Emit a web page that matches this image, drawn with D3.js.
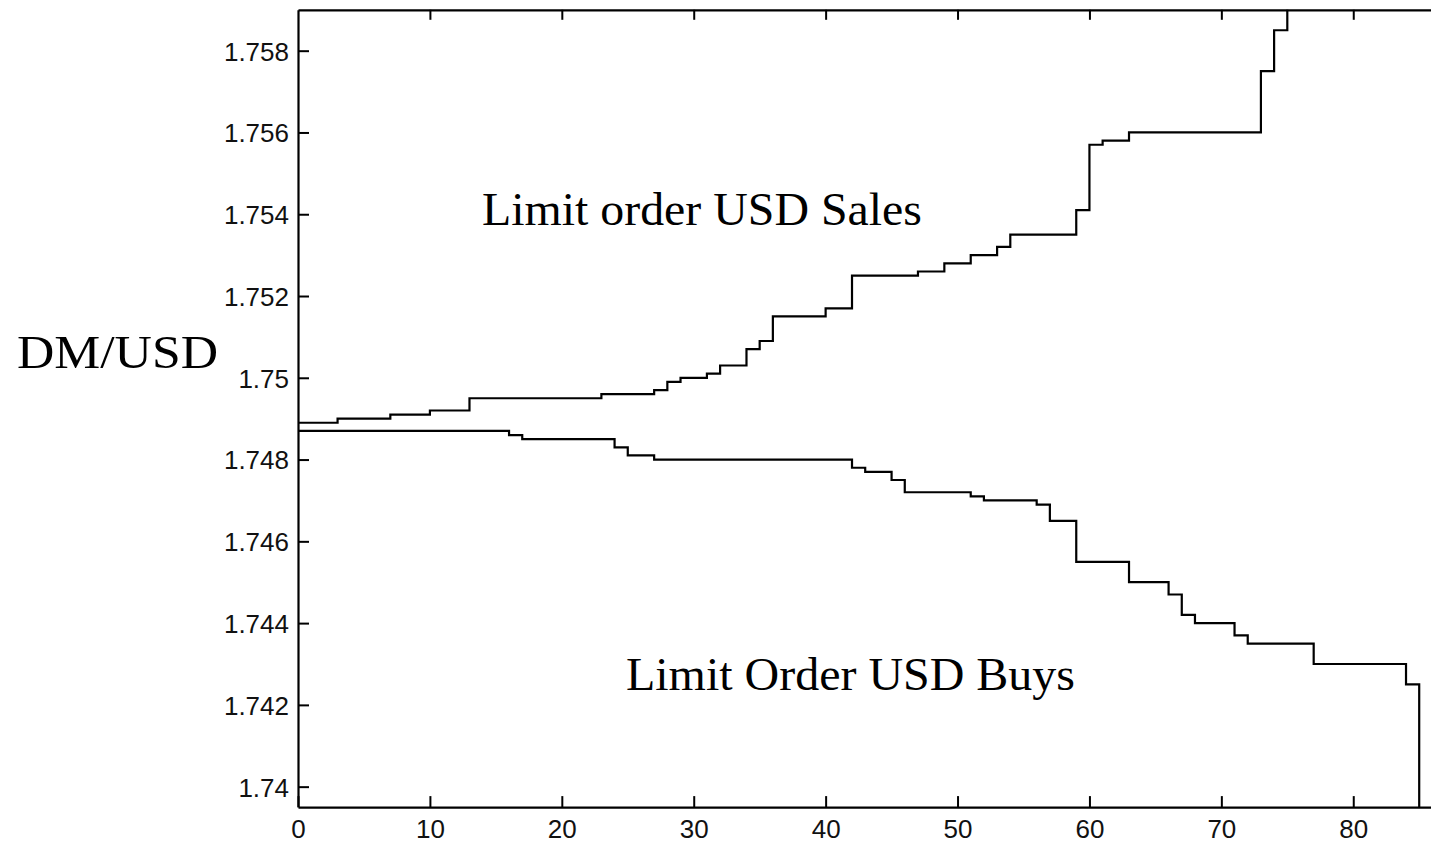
<!DOCTYPE html>
<html>
<head>
<meta charset="utf-8">
<script src="https://cdn.jsdelivr.net/npm/d3@7"></script>
<style>
  html, body { margin: 0; padding: 0; background: #fff; overflow: hidden; }
  svg { display: block; }
  .tick text { font-family: "Liberation Sans", Arial, Helvetica, sans-serif; font-size: 26px; fill: #111; }
  .anno { font-family: "Liberation Serif", "Times New Roman", serif; fill: #000; }
</style>
</head>
<body>
<svg id="chart" width="1431" height="844"></svg>
<script>
// Limit order book depth (DM/USD) against cumulative order count
const salesX = [0, 3, 7, 10, 13, 23, 27, 28, 29, 31, 32, 34, 35, 36, 40, 42, 47, 49, 51, 53, 54, 59, 60, 61, 63, 73, 74, 75];
const salesY = [1.7489, 1.7490, 1.7491, 1.7492, 1.7495, 1.7496, 1.7497, 1.7499, 1.7500, 1.7501, 1.7503, 1.7507, 1.7509, 1.7515,
                1.7517, 1.7525, 1.7526, 1.7528, 1.7530, 1.7532, 1.7535, 1.7541, 1.7557, 1.7558, 1.7560, 1.7575, 1.7585, 1.7600];

const buysX = [0, 16, 17, 24, 25, 27, 42, 43, 45, 46, 51, 52, 56, 57, 59, 63, 66, 67, 68, 71, 72, 77, 84, 85];
const buysY = [1.7487, 1.7486, 1.7485, 1.7483, 1.7481, 1.7480, 1.7478, 1.7477, 1.7475, 1.7472, 1.7471, 1.7470, 1.7469, 1.7465,
               1.7455, 1.7450, 1.7447, 1.7442, 1.7440, 1.7437, 1.7435, 1.7430, 1.7425, 1.7380];

const xTicks = [0, 10, 20, 30, 40, 50, 60, 70, 80];
const yTicks = [1.740, 1.742, 1.744, 1.746, 1.748, 1.750, 1.752, 1.754, 1.756, 1.758];
const yTickLabels = ["1.74", "1.742", "1.744", "1.746", "1.748", "1.75", "1.752", "1.754", "1.756", "1.758"];

const seriesLabels = ["Limit order USD Sales", "Limit Order USD Buys"];
const yAxisTitle = "DM/USD";

const svg = d3.select("#chart");

const x = d3.scaleLinear().domain([0, 86]).range([298, 1432.4]);
const y = d3.scaleLinear().domain([1.7395, 1.759]).range([807.1, 9.8]);

const [x0, x1] = x.range();
const [yb, yt] = y.range();

svg.append("defs").append("clipPath").attr("id", "plotClip")
  .append("rect").attr("x", x0).attr("y", yt).attr("width", x1 - x0).attr("height", yb - yt);

// Step lines
const toPoints = (xs, ys) => xs.map((v, i) => [v, ys[i]]);
const line = d3.line().x(d => x(d[0])).y(d => y(d[1])).curve(d3.curveStepAfter);

const g = svg.append("g").attr("clip-path", "url(#plotClip)");
g.append("path").datum(toPoints(salesX, salesY))
  .attr("d", line).attr("fill", "none").attr("stroke", "#000").attr("stroke-width", 2.2);
g.append("path").datum(toPoints(buysX, buysY))
  .attr("d", line).attr("fill", "none").attr("stroke", "#000").attr("stroke-width", 2.2);

// Axes (ticks point inward)
const axisStyle = sel => {
  sel.selectAll(".domain").attr("stroke", "#000").attr("stroke-width", 2.2);
  sel.selectAll(".tick line").attr("stroke", "#000").attr("stroke-width", 2);
};

svg.append("g").attr("transform", `translate(0,${yb})`)
  .call(d3.axisBottom(x).tickValues(xTicks).tickFormat(d3.format("d"))
        .tickSizeInner(-11).tickSizeOuter(0).tickPadding(12))
  .call(axisStyle)
  .call(s => s.selectAll(".tick text").attr("font-family", null).attr("font-size", null));

svg.append("g").attr("transform", `translate(0,${yt})`)
  .call(d3.axisTop(x).tickValues(xTicks.slice(1)).tickFormat("")
        .tickSizeInner(-10).tickSizeOuter(0))
  .call(axisStyle);

svg.append("g").attr("transform", `translate(${x0},0)`)
  .call(d3.axisLeft(y).tickValues(yTicks).tickFormat((d, i) => yTickLabels[i])
        .tickSizeInner(-11).tickSizeOuter(0).tickPadding(9))
  .call(axisStyle)
  .call(s => s.selectAll(".tick text").attr("font-family", null).attr("font-size", null).attr("dy", "0.36em"));

// Annotations
svg.append("text").attr("class", "anno").attr("x", 482).attr("y", 225)
  .attr("font-size", 46).attr("textLength", 440).attr("lengthAdjust", "spacingAndGlyphs")
  .text(seriesLabels[0]);
svg.append("text").attr("class", "anno").attr("x", 626).attr("y", 690)
  .attr("font-size", 46).attr("textLength", 449).attr("lengthAdjust", "spacingAndGlyphs")
  .text(seriesLabels[1]);
svg.append("text").attr("class", "anno").attr("x", 17).attr("y", 368)
  .attr("font-size", 47).attr("textLength", 201).attr("lengthAdjust", "spacingAndGlyphs")
  .text(yAxisTitle);
</script>
</body>
</html>
